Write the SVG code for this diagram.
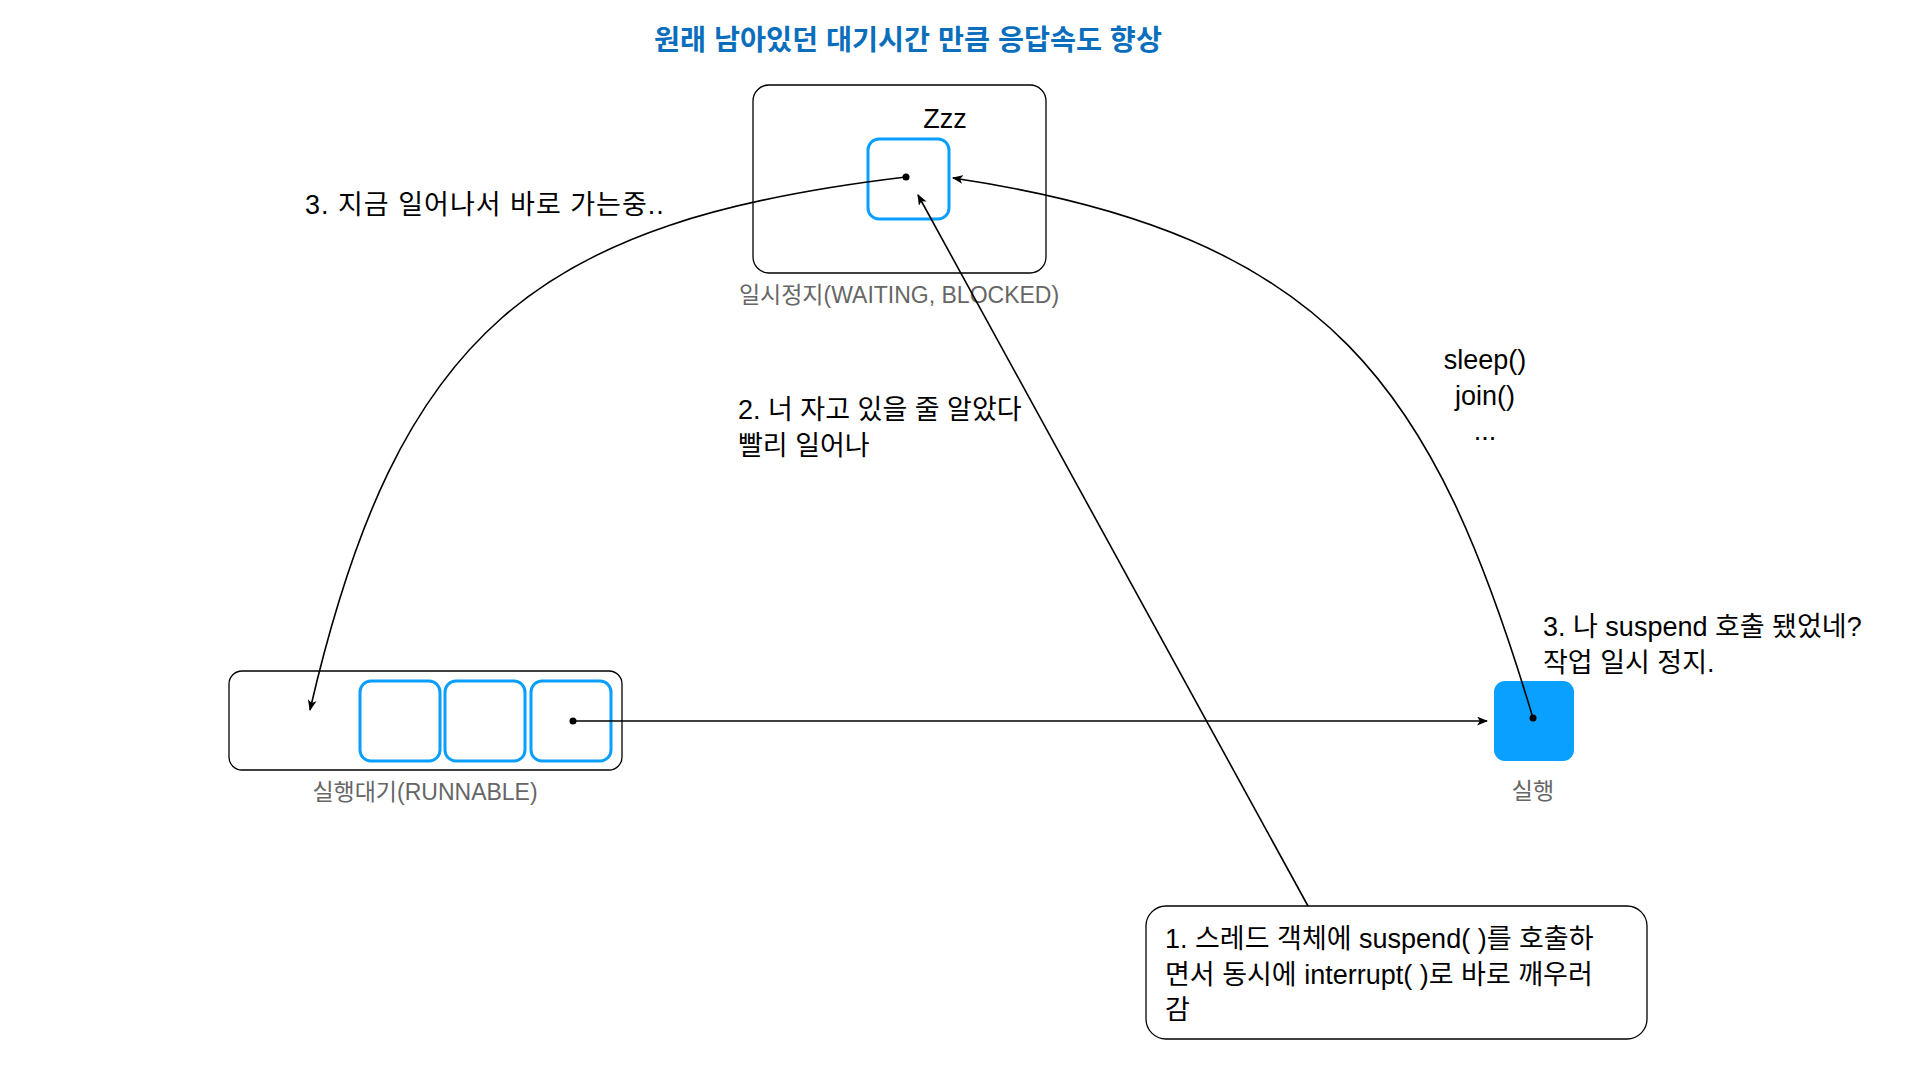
<svg xmlns="http://www.w3.org/2000/svg" width="1920" height="1080" viewBox="0 0 1920 1080">
  <defs>
    <style>
      text { font-family: "Liberation Sans", "Noto Sans CJK KR", sans-serif; }
      .lbl { font-size: 27px; fill: #000000; }
      .cap { font-size: 23px; fill: #666666; text-anchor: middle; }
      .title { font-size: 28.3px; font-weight: bold; fill: #0A6EBD; text-anchor: middle; }
      .frame { fill: #FFFFFF; stroke: #000000; stroke-width: 1.3; }
      .slot { fill: none; stroke: #0A9EFF; stroke-width: 3; }
      .conn { fill: none; stroke: #000000; stroke-width: 1.6; }
      .dot { fill: #000000; }
    </style>
    <marker id="arrow" viewBox="0 0 10 8" refX="9" refY="4" markerWidth="11" markerHeight="9" markerUnits="userSpaceOnUse" orient="auto">
      <path d="M0,0 L10,4 L0,8 L2.5,4 Z" fill="#000000"/>
    </marker>
  </defs>
  <rect width="1920" height="1080" fill="#FFFFFF"/>

  <text class="title" x="908" y="50">원래 남아있던 대기시간 만큼 응답속도 향상</text>

  <g id="waiting">
    <rect class="frame" x="753" y="85" width="293" height="188" rx="16"/>
    <rect class="slot" x="868" y="139" width="81" height="80" rx="11"/>
    <text class="lbl" x="945" y="128" text-anchor="middle" font-size="29">Zzz</text>
    <text class="cap" x="899" y="303">일시정지(WAITING, BLOCKED)</text>
  </g>

  <g id="runnable">
    <rect class="frame" x="229" y="671" width="393" height="99" rx="13"/>
    <rect class="slot" x="360" y="681" width="80" height="80" rx="11"/>
    <rect class="slot" x="445" y="681" width="80" height="80" rx="11"/>
    <rect class="slot" x="531" y="681" width="80" height="80" rx="11"/>
    <text class="cap" x="425" y="800">실행대기(RUNNABLE)</text>
  </g>

  <g id="running">
    <rect x="1494" y="681" width="80" height="80" rx="11" fill="#0AA0FF"/>
    <text class="cap" x="1533" y="799">실행</text>
  </g>

  <g id="note">
    <rect class="frame" x="1146" y="906" width="501" height="133" rx="20"/>
    <text class="lbl" x="1165" y="948" font-size="26.9">1. 스레드 객체에 suspend( )를 호출하</text>
    <text class="lbl" x="1165" y="984" font-size="26.9">면서 동시에 interrupt( )로 바로 깨우러</text>
    <text class="lbl" x="1165" y="1019" font-size="26.9">감</text>
  </g>

  <g id="labels">
    <text class="lbl" x="305" y="214" font-size="28.5" letter-spacing="1">3. 지금 일어나서 바로 가는중..</text>
    <text class="lbl" x="738" y="419" font-size="26.6">2. 너 자고 있을 줄 알았다</text>
    <text class="lbl" x="738" y="455" font-size="26.6">빨리 일어나</text>
    <text class="lbl" x="1485" y="369" text-anchor="middle" font-size="28.4">sleep()</text>
    <text class="lbl" x="1485" y="405" text-anchor="middle" font-size="28.4">join()</text>
    <text class="lbl" x="1485" y="440" text-anchor="middle" font-size="28.4">...</text>
    <text class="lbl" x="1543" y="636" font-size="27.6">3. 나 suspend 호출 됐었네?</text>
    <text class="lbl" x="1543" y="672" font-size="27.6">작업 일시 정지.</text>
  </g>

  <g id="connectors">
    <path class="conn" d="M906,177 C536,221 398,330 310,710" marker-end="url(#arrow)"/>
    <circle class="dot" cx="906" cy="177" r="3.5"/>
    <path class="conn" d="M1533,718 C1434,388 1333,235 953,178" marker-end="url(#arrow)"/>
    <circle class="dot" cx="1533" cy="718" r="3.5"/>
    <path class="conn" d="M573,721 L1487,721" marker-end="url(#arrow)"/>
    <circle class="dot" cx="573" cy="721" r="3.5"/>
    <path class="conn" d="M1308,906 L918,195" marker-end="url(#arrow)"/>
  </g>
</svg>
